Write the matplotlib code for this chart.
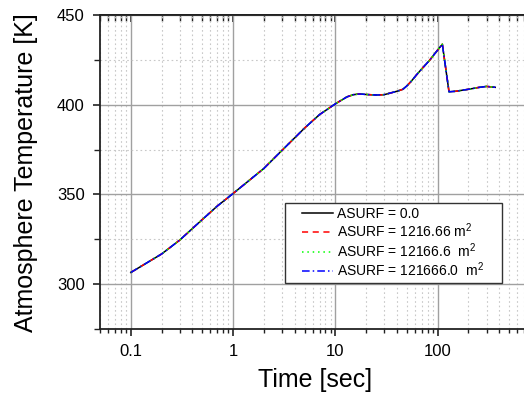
import matplotlib
matplotlib.use("Agg")
import matplotlib.pyplot as plt
from matplotlib.patches import Rectangle
from matplotlib.ticker import LogLocator, MultipleLocator, FixedLocator, NullFormatter

plt.rcParams['font.family'] = ['Liberation Sans', 'DejaVu Sans']
plt.rcParams['mathtext.fontset'] = 'custom'
plt.rcParams['mathtext.rm'] = 'Liberation Sans'

time = [0.1, 0.2, 0.3, 0.5, 0.7, 1, 2, 3, 5, 7, 10, 13, 15, 17.3, 20, 25, 30,
        40, 45.7, 50, 55, 62, 70, 84, 100, 111, 129, 150, 200, 250, 300, 365]
temp = [306.5, 316.8, 324.5, 336.0, 343.5, 350.5, 364.5, 374.5, 387.0, 394.5,
        400.5, 404.4, 405.6, 406.0, 405.7, 405.4, 405.6, 407.5, 408.6, 410.5,
        413.0, 416.6, 420.0, 425.0, 430.5, 433.7, 407.2, 407.5, 408.6, 409.6,
        410.2, 409.7]

labels = ["ASURF = 0.0", "ASURF = 1216.66 m$^2$", "ASURF = 12166.6  m$^2$",
          "ASURF = 121666.0  m$^2$"]
colors = ["black", "#ff0000", "#00ff00", "#0000ff"]
styles = ["-", (0, (4, 3)), (0, (1, 2.5)), (0, (5, 2, 1, 2))]

xticks = [0.1, 1, 10, 100]
xticklabels = ["0.1", "1", "10", "100"]
yticks = [300, 350, 400, 450]

fig = plt.figure(figsize=(5.24, 3.96), dpi=100)
ax = fig.add_axes([100/524, 1-329/396, 440/524, (329-15)/396])

for lab, c, s in zip(labels, colors, styles):
    ax.plot(time, temp, color=c, linestyle=s, linewidth=1.1, label=lab)

ax.set_xscale('log')
ax.set_xlim(0.05, 1000)
ax.set_ylim(275, 450)
ax.xaxis.set_major_locator(FixedLocator(xticks))
ax.set_xticklabels(xticklabels)
ax.xaxis.set_minor_locator(LogLocator(base=10, subs=range(2, 10), numticks=20))
ax.xaxis.set_minor_formatter(NullFormatter())
ax.yaxis.set_major_locator(FixedLocator(yticks))
ax.yaxis.set_minor_locator(MultipleLocator(25))

ax.grid(which='major', color='#a0a0a0', linewidth=1.0, linestyle='-')
ax.grid(which='minor', color='#c8c8c8', linewidth=0.8, linestyle=(0, (1.5, 2.5)))
ax.set_axisbelow(True)

for sp in ['left', 'bottom', 'top']:
    ax.spines[sp].set_linewidth(1.3)
    ax.spines[sp].set_color('#222222')
ax.spines['right'].set_visible(False)

ax.tick_params(which='major', direction='out', length=5, width=1.2, labelsize=12,
               colors='#222222', labelcolor='black', pad=6)
ax.tick_params(which='minor', direction='out', length=3, width=1.0, colors='#222222')
ax.tick_params(axis='y', which='minor', length=4)

sec = ax.secondary_xaxis('top')
sec.set_xscale('log')
sec.xaxis.set_major_locator(FixedLocator(xticks))
sec.xaxis.set_minor_locator(LogLocator(base=10, subs=range(2, 10), numticks=20))
sec.xaxis.set_major_formatter(NullFormatter())
sec.xaxis.set_minor_formatter(NullFormatter())
sec.tick_params(which='major', direction='in', length=5, width=1.2, colors='#222222')
sec.tick_params(which='minor', direction='in', length=4, width=1.0, colors='#222222')
sec.spines['top'].set_linewidth(1.3)

ax.set_xlabel("Time [sec]", fontsize=18)
ax.set_ylabel("Atmosphere Temperature [K]", fontsize=18)
ax.xaxis.set_label_coords(215/440, -0.125)
ax.yaxis.set_label_coords(-0.140, 0.498)

# legend frame (square box) and entries
frame = Rectangle((285/524, 1-283/396), 217/524, 80/396, transform=fig.transFigure,
                  facecolor='white', edgecolor='#333333', linewidth=1.0,
                  zorder=4.5, clip_on=False)
ax.add_patch(frame)
leg = ax.legend(loc='upper left', bbox_to_anchor=(302/524, 1-207/396),
                bbox_transform=fig.transFigure, borderaxespad=0, fontsize=10,
                frameon=False, handlelength=2.2, handletextpad=0.35,
                labelspacing=0.05, borderpad=0)
leg.set_zorder(5)

fig.savefig("out.png", dpi=100)
